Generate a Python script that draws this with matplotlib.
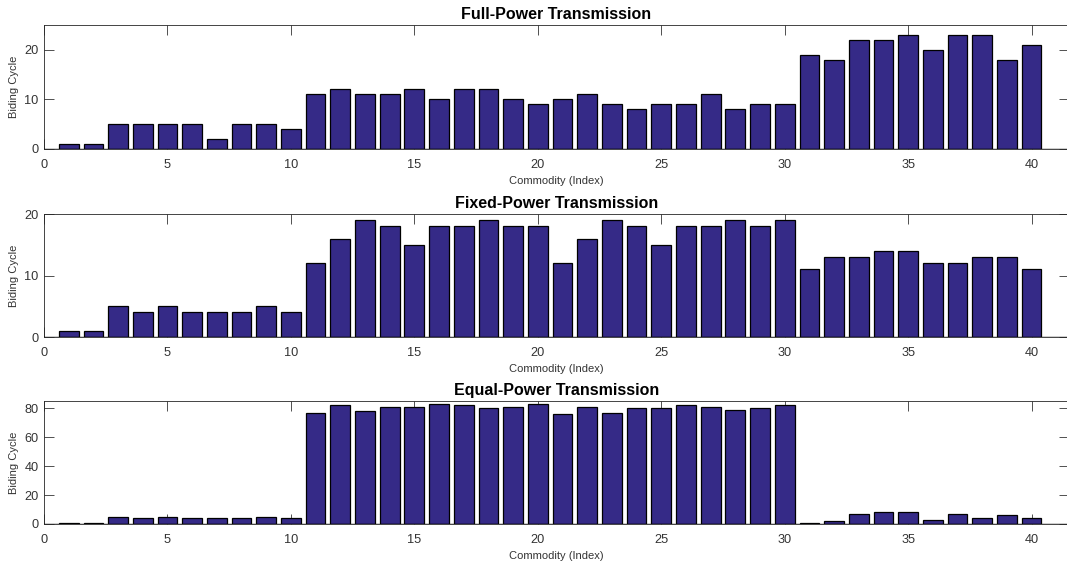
import matplotlib
matplotlib.use("Agg")
import matplotlib.pyplot as plt
import numpy as np

plt.rcParams['font.family'] = ['Liberation Sans', 'DejaVu Sans']

commodity = list(range(1, 41))
full_power = [1, 1, 5, 5, 5, 5, 2, 5, 5, 4,
              11, 12, 11, 11, 12, 10, 12, 12, 10, 9,
              10, 11, 9, 8, 9, 9, 11, 8, 9, 9,
              19, 18, 22, 22, 23, 20, 23, 23, 18, 21]
fixed_power = [1, 1, 5, 4, 5, 4, 4, 4, 5, 4,
               12, 16, 19, 18, 15, 18, 18, 19, 18, 18,
               12, 16, 19, 18, 15, 18, 18, 19, 18, 19,
               11, 13, 13, 14, 14, 12, 12, 13, 13, 11]
equal_power = [1, 1, 5, 4, 5, 4, 4, 4, 5, 4,
               77, 82, 78, 81, 81, 83, 82, 80, 81, 83,
               76, 81, 77, 80, 80, 82, 81, 79, 80, 82,
               1, 2, 7, 8, 8, 3, 7, 4, 6, 4]
titles = ["Full-Power Transmission", "Fixed-Power Transmission", "Equal-Power Transmission"]
xticks = [0, 5, 10, 15, 20, 25, 30, 35, 40]
yticks_list = [[0, 10, 20], [0, 10, 20], [0, 20, 40, 60, 80]]
ylims = [25, 20, 85]
series = [full_power, fixed_power, equal_power]

W, H = 1067, 567
fig = plt.figure(figsize=(W / 100, H / 100), dpi=100)
# axes boxes in pixels: (top, bottom)
boxes = [(25, 149), (214, 337), (401, 524)]
left_px = 44
xmax = 41.5
px_per_unit = 24.69
right_px = left_px + xmax * px_per_unit

bar_color = '#352A87'
axis_color = '#262626'

for i, (top, bot) in enumerate(boxes):
    ax = fig.add_axes([left_px / W, 1 - bot / H, (right_px - left_px) / W, (bot - top) / H])
    ax.bar(commodity, series[i], width=0.8, color=bar_color, edgecolor='black', linewidth=0.9, zorder=2)
    ax.axhline(0, color='black', linewidth=1.0, zorder=3)
    ax.set_xlim(0, xmax)
    ax.set_ylim(0, ylims[i])
    ax.set_xticks(xticks)
    ax.set_yticks(yticks_list[i])
    ax.tick_params(direction='in', top=True, right=True, length=7.5, width=0.6,
                   labelsize=9.2, colors='#333333')
    ax.tick_params(axis='x', pad=7)
    ax.tick_params(axis='y', pad=4)
    for sp in ax.spines.values():
        sp.set_color(axis_color)
        sp.set_linewidth(0.6)
    ax.set_title(titles[i], fontsize=11.5, fontweight='bold', pad=4)
    ax.set_xlabel("Commodity (Index)", fontsize=8, color='#333333', labelpad=4)
    ax.set_ylabel("Biding Cycle", fontsize=8, color='#333333', labelpad=4)

fig.savefig("out.png", dpi=100)
